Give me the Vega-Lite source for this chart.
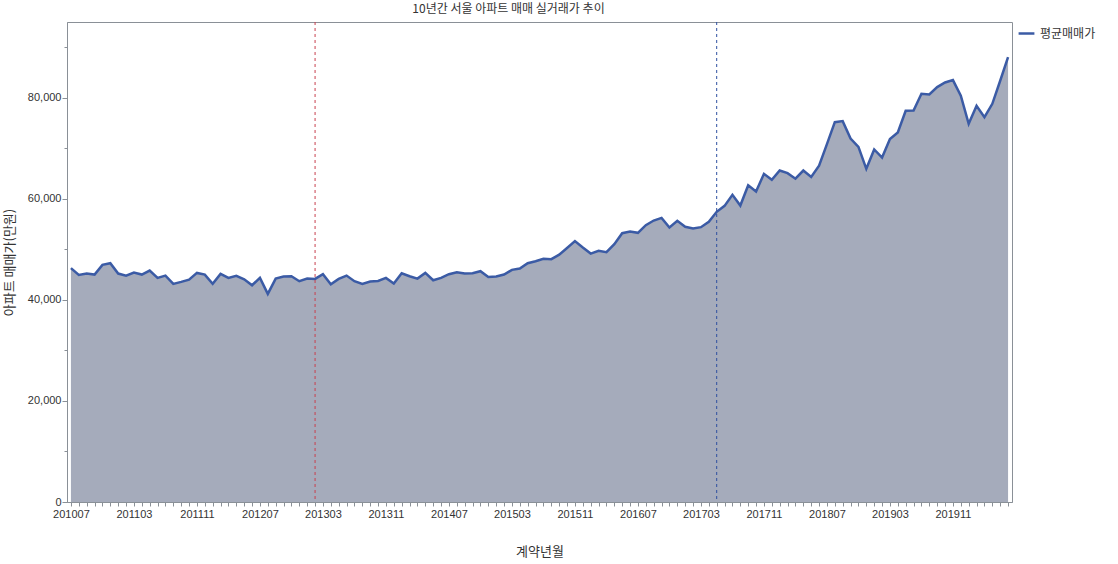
{
  "$schema": "https://vega.github.io/schema/vega-lite/v6.json",
  "autosize": "none",
  "width": 945,
  "height": 480,
  "padding": {"left": 67, "top": 22, "right": 106, "bottom": 62},
  "background": "white",
  "config": {
    "view": {"stroke": "#8a9097", "strokeWidth": 1},
    "font": "Liberation Sans"
  },
  "title": {
    "text": "10년간 서울 아파트 매매 실거래가 추이",
    "font": "Noto Sans CJK KR",
    "fontSize": 12,
    "fontWeight": "normal",
    "color": "#333333",
    "offset": 6,
    "dx": -31
  },
  "datasets": {
    "prices": [
      {"ym": "201007", "price": 46280}, {"ym": "201008", "price": 44950}, {"ym": "201009", "price": 45210},
      {"ym": "201010", "price": 45010}, {"ym": "201011", "price": 46930}, {"ym": "201012", "price": 47260},
      {"ym": "201101", "price": 45210}, {"ym": "201102", "price": 44810}, {"ym": "201103", "price": 45400},
      {"ym": "201104", "price": 45010}, {"ym": "201105", "price": 45800}, {"ym": "201106", "price": 44360},
      {"ym": "201107", "price": 44810}, {"ym": "201108", "price": 43170}, {"ym": "201109", "price": 43560},
      {"ym": "201110", "price": 44020}, {"ym": "201111", "price": 45340}, {"ym": "201112", "price": 45010},
      {"ym": "201201", "price": 43170}, {"ym": "201202", "price": 45150}, {"ym": "201203", "price": 44360},
      {"ym": "201204", "price": 44750}, {"ym": "201205", "price": 44090}, {"ym": "201206", "price": 42900},
      {"ym": "201207", "price": 44360}, {"ym": "201208", "price": 41190}, {"ym": "201209", "price": 44220},
      {"ym": "201210", "price": 44620}, {"ym": "201211", "price": 44680}, {"ym": "201212", "price": 43700},
      {"ym": "201301", "price": 44220}, {"ym": "201302", "price": 44160}, {"ym": "201303", "price": 45080},
      {"ym": "201304", "price": 43100}, {"ym": "201305", "price": 44160}, {"ym": "201306", "price": 44810},
      {"ym": "201307", "price": 43700}, {"ym": "201308", "price": 43170}, {"ym": "201309", "price": 43630},
      {"ym": "201310", "price": 43760}, {"ym": "201311", "price": 44360}, {"ym": "201312", "price": 43230},
      {"ym": "201401", "price": 45280}, {"ym": "201402", "price": 44690}, {"ym": "201403", "price": 44220},
      {"ym": "201404", "price": 45340}, {"ym": "201405", "price": 43890}, {"ym": "201406", "price": 44360},
      {"ym": "201407", "price": 45080}, {"ym": "201408", "price": 45480}, {"ym": "201409", "price": 45210},
      {"ym": "201410", "price": 45280}, {"ym": "201411", "price": 45680}, {"ym": "201412", "price": 44550},
      {"ym": "201501", "price": 44620}, {"ym": "201502", "price": 45010}, {"ym": "201503", "price": 45940},
      {"ym": "201504", "price": 46200}, {"ym": "201505", "price": 47260}, {"ym": "201506", "price": 47660},
      {"ym": "201507", "price": 48120}, {"ym": "201508", "price": 48060}, {"ym": "201509", "price": 48950},
      {"ym": "201510", "price": 50270}, {"ym": "201511", "price": 51650}, {"ym": "201512", "price": 50360},
      {"ym": "201601", "price": 49170}, {"ym": "201602", "price": 49700}, {"ym": "201603", "price": 49440},
      {"ym": "201604", "price": 51020}, {"ym": "201605", "price": 53200}, {"ym": "201606", "price": 53530},
      {"ym": "201607", "price": 53270}, {"ym": "201608", "price": 54790}, {"ym": "201609", "price": 55710},
      {"ym": "201610", "price": 56240}, {"ym": "201611", "price": 54320}, {"ym": "201612", "price": 55640},
      {"ym": "201701", "price": 54460}, {"ym": "201702", "price": 54120}, {"ym": "201703", "price": 54390},
      {"ym": "201704", "price": 55450}, {"ym": "201705", "price": 57430}, {"ym": "201706", "price": 58610},
      {"ym": "201707", "price": 60790}, {"ym": "201708", "price": 58670}, {"ym": "201709", "price": 62670},
      {"ym": "201710", "price": 61450}, {"ym": "201711", "price": 64950}, {"ym": "201712", "price": 63760},
      {"ym": "201801", "price": 65600}, {"ym": "201802", "price": 65080}, {"ym": "201803", "price": 63990},
      {"ym": "201804", "price": 65600}, {"ym": "201805", "price": 64320}, {"ym": "201806", "price": 66560},
      {"ym": "201807", "price": 70830}, {"ym": "201808", "price": 75180}, {"ym": "201809", "price": 75380},
      {"ym": "201810", "price": 71940}, {"ym": "201811", "price": 70300}, {"ym": "201812", "price": 65940},
      {"ym": "201901", "price": 69770}, {"ym": "201902", "price": 68180}, {"ym": "201903", "price": 71820},
      {"ym": "201904", "price": 73130}, {"ym": "201905", "price": 77430}, {"ym": "201906", "price": 77490},
      {"ym": "201907", "price": 80790}, {"ym": "201908", "price": 80660}, {"ym": "201909", "price": 82120},
      {"ym": "201910", "price": 83040}, {"ym": "201911", "price": 83500}, {"ym": "201912", "price": 80400},
      {"ym": "202001", "price": 74850}, {"ym": "202002", "price": 78420}, {"ym": "202003", "price": 76180},
      {"ym": "202004", "price": 78810}, {"ym": "202005", "price": 83370}, {"ym": "202006", "price": 88060}
    ]
  },
  "encoding": {
    "x": {
      "field": "ym",
      "type": "ordinal",
      "scale": {"type": "point", "padding": 0.5},
      "axis": {
        "title": "계약년월",
        "titleFont": "Noto Sans CJK KR",
        "titleFontSize": 13,
        "titleFontWeight": "normal",
        "titleColor": "#333333",
        "titlePadding": 26,
        "labelAngle": 0,
        "labelFontSize": 11,
        "labelColor": "#333333",
        "labelPadding": 2,
        "labelOverlap": false,
        "labelExpr": "(toNumber(substring(datum.value,0,4))*12 + toNumber(substring(datum.value,4,6)) - 24127) % 8 == 0 ? datum.value : ''",
        "tickSize": 4,
        "tickColor": "#8a9097",
        "domainColor": "#8a9097",
        "grid": false
      }
    }
  },
  "layer": [
    {
      "data": {"name": "prices"},
      "mark": {"type": "area", "color": "#a5abbb", "opacity": 1},
      "encoding": {
        "y": {
          "field": "price",
          "type": "quantitative",
          "scale": {"domain": [0, 95000], "nice": false},
          "axis": {
            "title": "아파트 매매가(만원)",
            "titleFont": "Noto Sans CJK KR",
            "titleFontSize": 13,
            "titleFontWeight": "normal",
            "titleColor": "#333333",
            "titlePadding": 11,
            "values": [0, 5000, 10000, 15000, 20000, 25000, 30000, 35000, 40000, 45000, 50000, 55000, 60000, 65000, 70000, 75000, 80000, 85000, 90000, 95000],
            "labelExpr": "datum.value % 20000 == 0 ? format(datum.value, ',') : ''",
            "labelFontSize": 11,
            "labelColor": "#333333",
            "labelPadding": 1,
            "tickSize": {"condition": {"test": "datum.value % 20000 == 0", "value": 5}, "value": 3},
            "tickColor": "#8a9097",
            "domainColor": "#8a9097",
            "grid": false
          }
        }
      }
    },
    {
      "data": {"name": "prices"},
      "mark": {"type": "line", "strokeWidth": 2.5},
      "encoding": {
        "y": {"field": "price", "type": "quantitative"},
        "color": {
          "datum": "평균매매가",
          "scale": {"range": ["#3b5ba5"]},
          "legend": {
            "title": null,
            "orient": "none",
            "legendX": 950,
            "legendY": 2,
            "labelFont": "Noto Sans CJK KR",
            "labelFontSize": 12,
            "labelColor": "#333333",
            "symbolType": "stroke",
            "symbolStrokeWidth": 2.5,
            "symbolSize": 250
          }
        }
      }
    },
    {
      "data": {"values": [{"ym": "201302"}]},
      "mark": {"type": "rule", "color": "#c8404f", "strokeWidth": 1, "strokeDash": [3, 3]},
      "encoding": {"x": {"field": "ym", "type": "ordinal"}}
    },
    {
      "data": {"values": [{"ym": "201705"}]},
      "mark": {"type": "rule", "color": "#2e4fa0", "strokeWidth": 1, "strokeDash": [3, 3]},
      "encoding": {"x": {"field": "ym", "type": "ordinal"}}
    }
  ]
}
